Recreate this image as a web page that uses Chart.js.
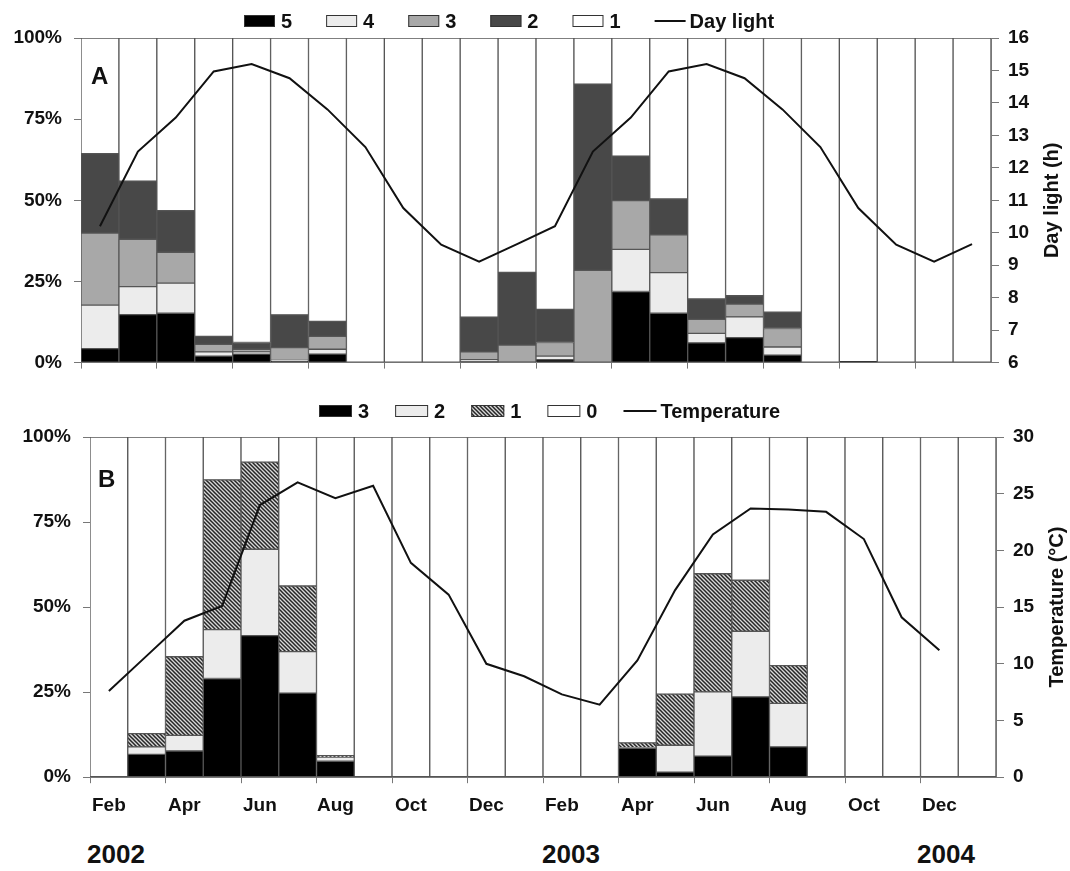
<!DOCTYPE html>
<html>
<head>
<meta charset="utf-8">
<script src="https://cdn.jsdelivr.net/npm/chart.js@4.4.1/dist/chart.umd.min.js"></script>
<style>
  body { margin: 0; background: #fff; width: 1070px; height: 871px; position: relative; overflow: hidden;
         font-family: "Liberation Sans", Arial, Helvetica, sans-serif; }
  #wrapA { position: absolute; left: 0; top: 0; width: 1070px; height: 386px; }
  #wrapB { position: absolute; left: 0; top: 390px; width: 1070px; height: 444px; }
  .year { position: absolute; top: 841px; width: 100px; text-align: center; font-weight: bold;
          font-size: 26px; line-height: 26px; color: #111; }
</style>
</head>
<body>
<div id="wrapA"><canvas id="chartA"></canvas></div>
<div id="wrapB"><canvas id="chartB"></canvas></div>
<div class="year" style="left:66px">2002</div>
<div class="year" style="left:521px">2003</div>
<div class="year" style="left:896px">2004</div>
<script>
// months Feb 2002 .. Jan 2004
const months = ['Feb', 'Mar', 'Apr', 'May', 'Jun', 'Jul', 'Aug', 'Sep', 'Oct', 'Nov', 'Dec', 'Jan',
                'Feb', 'Mar', 'Apr', 'May', 'Jun', 'Jul', 'Aug', 'Sep', 'Oct', 'Nov', 'Dec', 'Jan'];

// panel A - stage shares (%)
const stage5 = [4.3, 14.8, 15.2, 2.0, 2.6, 0.5, 2.6, 0, 0, 0, 0.2, 0, 0.9, 0, 21.9, 15.2, 6.1, 7.7, 2.3, 0, 0.3, 0, 0, 0];
const stage4 = [13.4, 8.6, 9.3, 1.3, 0.7, 0.2, 1.5, 0, 0, 0, 0.7, 0.2, 1.1, 0, 13.0, 12.5, 2.9, 6.4, 2.5, 0, 0, 0, 0, 0];
const stage3 = [22.2, 14.6, 9.5, 2.3, 0.8, 3.9, 4.0, 0, 0, 0, 2.4, 5.2, 4.2, 28.4, 15.0, 11.7, 4.3, 3.9, 5.7, 0, 0, 0, 0, 0];
const stage2 = [24.5, 17.9, 12.8, 2.5, 2.1, 10.1, 4.6, 0, 0, 0, 10.7, 22.4, 10.2, 57.4, 13.7, 11.0, 6.3, 2.6, 5.0, 0, 0, 0, 0, 0];
const stage1 = [35.6, 44.1, 53.2, 91.9, 93.8, 85.3, 87.3, 100, 100, 100, 86.0, 72.2, 83.6, 14.2, 36.4, 49.6, 80.4, 79.4, 84.5, 100, 99.7, 100, 100, 100];
const dayLight = [10.2, 12.5, 13.55, 14.97, 15.2, 14.76, 13.8, 12.64, 10.76, 9.63, 9.11, 9.65,
                  10.2, 12.5, 13.55, 14.97, 15.2, 14.76, 13.8, 12.64, 10.76, 9.63, 9.11, 9.65];

// panel B - class shares (%)
const class3 = [0, 6.7, 7.7, 29.0, 41.6, 24.7, 4.7, 0, 0, 0, 0, 0, 0, 0, 8.5, 1.5, 6.2, 23.6, 8.9, 0, 0, 0, 0, 0];
const class2 = [0, 2.2, 4.6, 14.4, 25.4, 12.2, 1.2, 0, 0, 0, 0, 0, 0, 0, 0.2, 7.9, 18.9, 19.3, 12.8, 0, 0, 0, 0, 0];
const class1 = [0, 3.9, 23.1, 44.0, 25.6, 19.3, 0.4, 0, 0, 0, 0, 0, 0, 0, 1.4, 15.0, 34.7, 15.0, 11.1, 0, 0, 0, 0, 0];
const class0 = [100, 87.2, 64.6, 12.6, 7.4, 43.8, 93.7, 100, 100, 100, 100, 100, 100, 100, 89.9, 75.6, 40.2, 42.1, 67.2, 100, 100, 100, 100, 100];
const temperature = [7.6, 10.7, 13.8, 15.1, 24.0, 26.0, 24.6, 25.7, 18.9, 16.1, 10.0, 8.9,
                     7.3, 6.4, 10.3, 16.5, 21.4, 23.7, 23.6, 23.4, 21.0, 14.1, 11.2, null];

const pctTicks = [0, 25, 50, 75, 100];

const FONT = '"Liberation Sans", Arial, Helvetica, sans-serif';
Chart.defaults.font.family = FONT;
Chart.defaults.font.weight = 'bold';
Chart.defaults.color = '#111';

function makeHatch() {
    const c = document.createElement('canvas');
    c.width = 4; c.height = 4;
    const g = c.getContext('2d');
    g.fillStyle = '#d8d8d8';
    g.fillRect(0, 0, 4, 4);
    g.strokeStyle = '#262626';
    g.lineWidth = 1.5;
    g.beginPath();
    g.moveTo(-1, -1); g.lineTo(5, 5);
    g.moveTo(-1, 3); g.lineTo(1, 5);
    g.moveTo(3, -1); g.lineTo(5, 1);
    g.stroke();
    return g.createPattern(c, 'repeat');
}

// legend row, panel letter and right axis title
const extras = {
    id: 'extras',
    afterDraw(chart, args, opts) {
        const ctx = chart.ctx;
        const area = chart.chartArea;
        ctx.save();
        ctx.textBaseline = 'middle';

        ctx.font = 'bold 20px ' + FONT;
        let x = opts.legendX;
        chart.data.datasets.forEach(ds => {
            const y = opts.legendY;
            if (ds.type === 'line') {
                ctx.strokeStyle = '#111';
                ctx.lineWidth = 2;
                ctx.beginPath();
                ctx.moveTo(x, y); ctx.lineTo(x + opts.box, y);
                ctx.stroke();
            } else {
                ctx.fillStyle = ds.backgroundColor;
                ctx.fillRect(x, y - 6, opts.box, 12);
                ctx.strokeStyle = '#333';
                ctx.lineWidth = 1;
                ctx.strokeRect(x + 0.5, y - 5.5, opts.box - 1, 11);
            }
            ctx.fillStyle = '#111';
            const tx = x + opts.box + (ds.type === 'line' ? 4 : 6);
            ctx.fillText(ds.label, tx, y + 1);
            x = tx + ctx.measureText(ds.label).width + opts.gap;
        });

        ctx.font = 'bold 24px ' + FONT;
        ctx.fillText(opts.letter, opts.letterX, opts.letterY);

        ctx.font = 'bold 20px ' + FONT;
        ctx.translate(opts.titleX, (area.top + area.bottom) / 2);
        ctx.rotate(-Math.PI / 2);
        ctx.textAlign = 'center';
        ctx.fillText(opts.title, 0, 0);
        ctx.restore();
    }
};

function barSet(label, data, color) {
    return {
        label: label,
        data: data.map(v => v || null),
        backgroundColor: color,
        borderColor: '#555',
        borderWidth: 1,
        borderSkipped: false,
        categoryPercentage: 1,
        barPercentage: 1,
        order: 1
    };
}

function lineSet(label, data, axis) {
    return {
        type: 'line',
        label: label,
        data: data,
        yAxisID: axis,
        borderColor: '#111',
        borderWidth: 2,
        pointRadius: 0,
        tension: 0,
        order: 0
    };
}

function xScale(showLabels) {
    return {
        stacked: true,
        offset: true,
        grid: {
            drawOnChartArea: false,
            tickLength: 6,
            color: c => (c.index % 2 === 0 ? '#777' : 'rgba(0,0,0,0)')
        },
        border: { color: '#777' },
        ticks: {
            display: showLabels,
            autoSkip: false,
            maxRotation: 0,
            padding: 11,
            font: { size: 19, weight: 'bold' },
            callback: (v, i) => (i % 2 === 0 ? months[i] : '')
        }
    };
}

function pctScale(width) {
    return {
        stacked: true,
        min: 0,
        max: 100,
        afterBuildTicks: s => { s.ticks = pctTicks.map(v => ({ value: v })); },
        ticks: { padding: 12, font: { size: 19, weight: 'bold' }, callback: v => v + '%' },
        grid: { drawOnChartArea: false, tickLength: 7, color: '#777' },
        border: { color: '#777' },
        afterFit: s => { s.width = width; }
    };
}

function rightScale(min, max, step, width) {
    return {
        position: 'right',
        min: min,
        max: max,
        ticks: { stepSize: step, padding: 9, font: { size: 19, weight: 'bold' } },
        grid: { drawOnChartArea: false, tickLength: 8, color: '#777' },
        border: { color: '#777' },
        afterFit: s => { s.width = width; }
    };
}

new Chart(document.getElementById('chartA'), {
    type: 'bar',
    data: {
        labels: months,
        datasets: [
            barSet('5', stage5, '#000000'),
            barSet('4', stage4, '#ececec'),
            barSet('3', stage3, '#a8a8a8'),
            barSet('2', stage2, '#484848'),
            barSet('1', stage1, '#ffffff'),
            lineSet('Day light', dayLight, 'y2')
        ]
    },
    options: {
        responsive: true,
        maintainAspectRatio: false,
        animation: false,
        layout: { padding: { top: 38, bottom: 6, left: 0, right: 0 } },
        plugins: {
            legend: { display: false },
            tooltip: { enabled: false },
            extras: { legendX: 244, legendY: 21, box: 31, gap: 34,
                      letter: 'A', letterX: 91, letterY: 77, title: 'Day light (h)', titleX: 1052 }
        },
        scales: {
            x: xScale(false),
            y: pctScale(81),
            y2: rightScale(6, 16, 1, 79)
        }
    },
    plugins: [extras]
});

new Chart(document.getElementById('chartB'), {
    type: 'bar',
    data: {
        labels: months,
        datasets: [
            barSet('3', class3, '#000000'),
            barSet('2', class2, '#ececec'),
            barSet('1', class1, makeHatch()),
            barSet('0', class0, '#ffffff'),
            lineSet('Temperature', temperature, 'y2')
        ]
    },
    options: {
        responsive: true,
        maintainAspectRatio: false,
        animation: false,
        layout: { padding: { top: 47, bottom: 6, left: 0, right: 0 } },
        plugins: {
            legend: { display: false },
            tooltip: { enabled: false },
            extras: { legendX: 319, legendY: 21, box: 33, gap: 26,
                      letter: 'B', letterX: 98, letterY: 90, title: 'Temperature (°C)', titleX: 1057 }
        },
        scales: {
            x: xScale(true),
            y: pctScale(90),
            y2: rightScale(0, 30, 5, 74)
        }
    },
    plugins: [extras]
});
</script>
</body>
</html>
